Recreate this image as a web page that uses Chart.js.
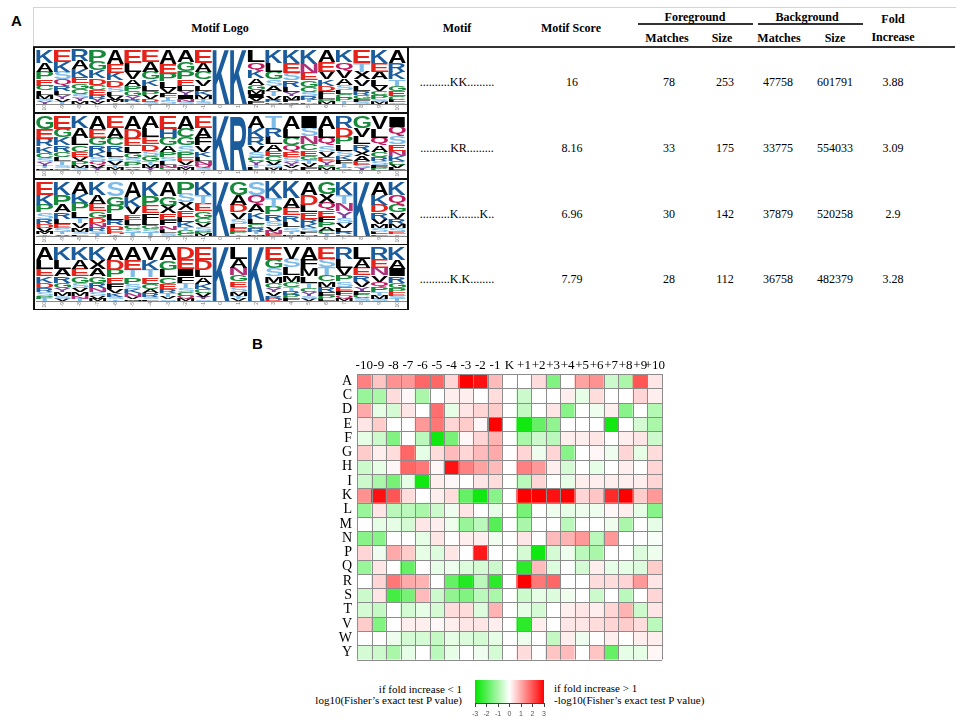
<!DOCTYPE html>
<html>
<head>
<meta charset="utf-8">
<script src="https://cdn.jsdelivr.net/npm/chart.js@4.4.1/dist/chart.umd.min.js"></script>
<style>
body { margin: 0; background: #fff; }
#page { position: relative; width: 957px; height: 727px; overflow: hidden; font-family: "Liberation Serif", "Times New Roman", serif; color: #000; }
.t { position: absolute; transform: translate(-50%, -50%); white-space: nowrap; font-size: 12px; line-height: 1; }
.r { transform: translate(-100%, -50%); }
.l { transform: translate(0, -50%); }
.b { font-weight: bold; }
.panel { position: absolute; font-family: "Liberation Sans", Arial, sans-serif; font-weight: bold; font-size: 15px; line-height: 1; }
.line { position: absolute; }
canvas { position: absolute; }
.logobox { position: absolute; left: 33px; width: 372px; border: 2px solid #111; border-top-width: 1px; border-bottom-width: 1px; }
</style>
</head>
<body>
<div id="page">
  <div class="panel" style="left:11px;top:13px;">A</div>
  <div class="panel" style="left:252px;top:336px;">B</div>

  <div class="line" style="left:33px;top:7px;width:922px;height:39px;border-top:1px solid #d4d4d4;border-left:1px solid #d4d4d4;"></div>
  <div class="line" style="left:33px;top:46px;width:922px;height:2px;background:#333;"></div>
  <div class="line" style="left:638px;top:23px;width:115px;height:2px;background:#333;"></div>
  <div class="line" style="left:758px;top:23px;width:105px;height:2px;background:#333;"></div>

  <div class="t b" style="left:220px;top:28px;">Motif Logo</div>
  <div class="t b" style="left:457px;top:28px;">Motif</div>
  <div class="t b" style="left:571px;top:28px;">Motif Score</div>
  <div class="t b" style="left:695px;top:17px;">Foreground</div>
  <div class="t b" style="left:807px;top:17px;">Background</div>
  <div class="t b" style="left:893px;top:19px;">Fold</div>
  <div class="t b" style="left:667px;top:38px;">Matches</div>
  <div class="t b" style="left:722px;top:38px;">Size</div>
  <div class="t b" style="left:779px;top:38px;">Matches</div>
  <div class="t b" style="left:835px;top:38px;">Size</div>
  <div class="t b" style="left:893px;top:37px;">Increase</div>

  <div id="rows"></div>

  <canvas id="heat" width="340" height="323" style="left:330px;top:350px;width:340px;height:323px;"></canvas>
  <canvas id="scale" width="89" height="41" style="left:465px;top:680px;width:89px;height:41px;"></canvas>

  <div class="t r" style="left:462px;top:689px;font-size:11px;">if fold increase &lt; 1</div>
  <div class="t r" style="left:462px;top:700px;font-size:11px;">log10(Fisher’s exact test P value)</div>
  <div class="t l" style="left:554px;top:688px;font-size:11px;">if fold increase &gt; 1</div>
  <div class="t l" style="left:554px;top:700px;font-size:11px;">-log10(Fisher’s exact test P value)</div>
</div>

<script>
// table values
var motifs = ['..........KK.........', '..........KR.........', '..........K.......K..', '..........K.K........'];
var motifScores = [16, 8.16, 6.96, 7.79];
var fgMatches = [78, 33, 30, 28];
var fgSize = [253, 175, 142, 112];
var bgMatches = [47758, 33775, 37879, 36758];
var bgSize = [601791, 554033, 520258, 482379];
var foldIncrease = [3.88, 3.09, 2.9, 3.28];

// heatmap axes and values
var positions = ['-10', '-9', '-8', '-7', '-6', '-5', '-4', '-3', '-2', '-1', 'K',
                 '+1', '+2', '+3', '+4', '+5', '+6', '+7', '+8', '+9', '+10'];
var residues = ['A', 'C', 'D', 'E', 'F', 'G', 'H', 'I', 'K', 'L', 'M', 'N', 'P', 'Q', 'R', 'S', 'T', 'V', 'W', 'Y'];
var heat = [
  [1.5, 0.7, 1.3, 1.2, 1.8, 1.8, 0.5, 3, 2.8, 0.8, 0, 0, 0.4, -1.5, 0, 1.1, 1.3, -0.6, -1.0, 2.0, 0.3],
  [-1.2, -1.0, 0.4, 0.1, -1.0, 0, 0.2, 0.2, 0, 0.4, 0, -0.6, 0, 0, 0.2, -0.3, 0.4, 0, 0, 0.5, 0.2],
  [1.0, -0.3, -0.5, 0.3, 0, 1.7, -0.3, 0.3, 0.5, 0.6, 0, -0.7, 0, 0.3, -1.4, 0, -0.2, 0.2, -1.4, 0, -0.9],
  [0.3, 0.6, 0, 0, 1.2, 1.6, 0.5, 0.6, 0.1, 3, 0, -2.8, -1.8, -1.3, 0, 0, 0, -2.8, 0, -0.5, -1.0],
  [-0.3, -0.6, -1.5, 0, -0.8, -2.8, -1.6, 0.1, 0.5, 0.9, 0, -1.0, -0.6, -0.8, 0.2, 0.2, 0.3, 0, 0.2, 0.3, -0.6],
  [0.6, 0.2, 0.4, 1.8, -0.3, 0.4, 0.8, 0.5, 0.8, 1.0, 0, 0.5, -0.2, 0.5, -1.4, 0, 0.1, -0.2, 0.5, -0.3, 0.4],
  [-0.6, -0.3, 0.1, 1.8, 1.6, 0.1, 2.8, 1.5, 1.1, 0.8, 0, 1.5, 1.2, 0.2, -0.5, 0, -0.3, 0, 0.2, 0, 0.5],
  [-0.6, -1.0, -1.6, -0.3, -2.8, 0.2, 0.1, 0, 0.3, 0.4, 0, -0.8, 0.5, 0, -0.3, 0.2, 0.2, 0.2, 0.2, 0.2, 0.5],
  [1.3, 2.8, 2.0, 0.4, 0, 0.2, 0.4, -1.8, -2.8, -1.4, 0, 3, 3, 2.8, 3, 0.5, 0.7, 2.5, 3, 0.6, 1.2],
  [-1.2, 0.3, -0.8, -0.8, -1.0, -0.6, -0.2, 0.3, 0, -0.3, 0, -1.6, 0, -0.2, -0.3, -0.2, -0.2, 0.1, 0.2, -0.3, -1.4],
  [0, -0.3, -0.3, -0.5, 0.3, 0.2, -0.2, -1.2, -0.8, -2.0, 0, -1.0, 0, 0, -0.8, 0, 0, -0.2, -1.0, 0, -0.3],
  [-1.4, -1.4, 0, 0, -0.3, 0.3, 0, 0.2, 0.2, -0.2, 0, 0.3, 0, 0.8, 0.9, 1.2, -0.8, 1.2, 0, 0, -0.1],
  [0.5, -0.2, 1.0, 0.6, -0.3, -0.4, 0.3, 0, 2.7, 0, 0, -0.5, -2.8, -0.5, -0.2, -0.8, -1.0, 0, 0, -0.4, -0.2],
  [-1.2, 0.3, 0, -1.8, 0, -0.3, -0.2, -0.4, -0.5, -0.6, 0, -2.5, 0.8, -0.4, 0, -0.5, 0.2, -0.3, -0.3, -0.4, 0.6],
  [0, 0.5, 1.6, 1.0, 0.9, 0, -1.8, -2.6, -0.8, -2.5, 0, 3, 1.6, 1.8, 0, 0, 0.4, 0.4, 0.5, 1.2, 0.3],
  [-0.6, 0.3, -2.2, -1.6, 0.8, -0.6, -1.3, -1.5, -0.8, -1.0, 0, -0.6, -0.3, -0.4, -0.2, 0, -0.6, 0, -0.8, 0, 0.5],
  [-0.5, -0.7, 0, -0.5, -0.3, -0.5, 0.4, 0.4, -0.4, 0.9, 0, -0.3, -0.5, 0, 0.2, 0.3, 0.2, 0.5, 0.9, -0.6, 0.3],
  [0.6, -1.5, 0, 0.2, 0.2, 0.1, 0.2, 0.3, 0.3, 0.2, 0, -2.5, 0.2, 0, 0.3, 0.3, 0.4, 0.5, 0.6, 0.4, -0.8],
  [0, 0, -0.2, -0.5, -0.5, -0.7, -0.3, -0.4, -0.5, -0.3, 0, -0.2, 0, -0.7, 0.2, -0.2, 0, 0.2, 0, 0.2, 0.2],
  [-0.5, -0.6, -1.0, -0.3, 0, -0.8, -0.3, 0, -0.2, -0.5, 0, 0.4, 0, 0.7, 0.8, 0, 0.7, -1.8, -0.3, -0.3, 0.1]
];
var scaleTicks = [-3, 3];

// motif logos: each column lists letters top to bottom with their heights
var logo1 = ['K24 A16 P14 E12 C9 L8 M7 S5 Y5', 'E22 K18 S14 Q12 R10 L8 Y7 V5 T4', 'R20 A16 K14 E12 G10 C9 S8 Y6 M5',
  'P22 G16 K14 D12 C10 E9 R7 Y6 V4', 'A26 E16 K14 D12 S9 L8 V7 M5 T3', 'E24 L16 V14 A12 P10 G9 Y7 R5 S3',
  'E22 A18 G14 K12 L10 P8 V7 D5 S4', 'A26 E18 P14 L12 V9 F8 T7 S6', 'A22 G18 P14 E12 L10 Y8 I7 N5 S4',
  'E24 A16 C14 V12 L10 K8 M7 T5 S4', 'K100', 'K100', 'L22 Q16 K14 A12 G10 M8 I7 V6 F5',
  'K24 L16 G14 S12 A10 T9 V7 R5 N3', 'K24 E18 S14 R12 L10 Y8 M6 F5 Q3', 'K26 N16 E14 G12 C10 S8 R6 T5 P3',
  'A22 E18 V14 K12 D10 F8 L7 P5 M4', 'K22 Q16 V14 A12 S10 L8 C7 P6 T5', 'E24 T16 X14 V12 L10 R8 G7 F5 S4',
  'K24 E16 A14 L12 V10 C8 P7 S5 M4', 'A24 R16 K14 T12 G10 E9 C7 L5 S3'];
var logo2 = ['G24 E18 R14 K12 C10 S8 Y6 T5 M3', 'E24 G16 K14 R12 C10 L8 T7 S5 Q4', 'K22 A18 L14 C12 E10 V8 P7 M5 S4',
  'A24 E16 G14 R12 K10 S8 Q7 V5 Y4', 'E22 A18 C14 R12 L10 S8 V7 T5 M4', 'A24 D18 E14 L12 G10 S8 P7 Q4 V3',
  'A22 L16 E14 D12 S10 G9 T7 M6 Y4', 'E24 H16 G14 A12 P10 S8 L7 N5 C4', 'A24 C16 G14 S12 P10 E8 V7 Y5 M4',
  'E22 A18 F14 V12 K10 L8 N7 Q5 S4', 'K100', 'R100', 'A22 K18 R14 V12 S10 C8 Y7 T5 L4',
  'T22 R16 L14 A12 E10 C9 V7 S6 M4', 'A24 L16 C14 Q12 E10 S9 Y7 V5 R3', 'I22 S16 N14 C12 E10 G8 T7 V6 F5',
  'A24 L16 Q14 S12 V10 E8 Y7 P5 M4', 'R22 D16 P14 L12 S10 K8 F7 T6 C5', 'G22 V16 L14 R12 X10 A9 E7 S6 Y4',
  'V24 L16 Q14 A12 C10 R8 S7 F5 P4', 'I20 Q18 S14 E12 N10 K9 C7 V6 L4'];
var logo3 = ['E24 K18 P14 S12 R10 D8 V6 M5 Y3', 'K24 P18 A14 R12 L10 E8 S6 T5 V3', 'A22 K16 P16 L12 T10 V9 M7 S5 F3',
  'K24 A16 E14 G12 D10 N8 R7 S5 T4', 'S26 G18 P14 L12 R10 D8 E6 H3 Y3', 'A28 K18 V14 E10 L9 C8 S7 T6',
  'K26 P18 E14 F12 L10 G8 S6 T6', 'A26 G18 X14 E12 F10 N8 L7 S5', 'P22 S16 X14 E12 L10 K9 T7 G6 C4',
  'K24 T16 E14 G12 C10 V8 S7 P5 M4', 'K100', 'G24 A18 D14 V12 S10 L8 E7 P4 T3', 'S24 Q18 A14 K12 L10 C8 R7 T4 M3',
  'K30 T16 P14 R12 S10 V8 N6 E4', 'K30 A18 E14 R12 L10 S8 T5 M3', 'A24 D18 L14 E12 R10 K8 S7 F4 N3',
  'G22 X16 Q14 E12 F10 P9 A7 C6 T4', 'K24 T16 N14 Y12 S10 V9 L7 R5 D3', 'K100',
  'A24 K18 D14 R12 V10 M8 S7 L4 E3', 'K24 Q18 G14 V12 R10 M8 S7 E4 T3'];
var logo4 = ['A24 L16 E14 K12 D10 R8 S7 P5 T4', 'K24 L16 A14 R12 G10 Y8 M7 S5 V4', 'K24 A16 E14 G12 S10 V8 M7 N5 T4',
  'K24 X16 A14 G12 R10 N8 S7 V5 M4', 'A24 D18 P14 E12 F10 V8 K7 S4 T3', 'A24 E18 T14 P12 S10 K8 N7 V4 M3',
  'V24 K18 T14 E12 C10 A8 R7 S4 L3', 'A24 G18 L14 C12 E10 R8 T7 V4 S3', 'D22 E18 I14 F12 T10 S8 C7 Q5 M4',
  'E24 D18 L14 A12 K10 C8 V7 Y4 S3', 'K100', 'L22 A16 N14 G12 E10 S9 M8 T5 V4', 'K100',
  'E24 G16 S14 M12 C10 Y8 V7 R5 D4', 'V22 S16 L14 M12 C10 T8 R7 P6 F5', 'A24 F16 M14 L12 T10 C8 Y7 S5 V4',
  'E22 S16 T14 C12 M10 R9 F7 P6 L4', 'R22 L16 V14 P12 S10 E8 F7 Q6 M5', 'L22 A16 E14 R12 V10 Y8 F7 C6 S5',
  'R22 E16 N14 V12 Q10 P9 T7 M6 S4', 'K24 A16 I14 R12 G10 P8 E7 S5 T4'];
var logoTicks = ['-10', '-9', '-8', '-7', '-6', '-5', '-4', '-3', '-2', '-1', '0',
                 '1', '2', '3', '4', '5', '6', '7', '8', '9', '10'];

var letterColors = {
  K: '#1b5c9c', R: '#1b5c9c', H: '#1b5c9c',
  D: '#e5231b', E: '#e5231b',
  G: '#17893a', P: '#17893a', C: '#17893a',
  S: '#7dbbe8', T: '#7dbbe8',
  Q: '#c2185b', N: '#b0307a', Y: '#7b3f9e'
};

var rowTops = [47, 113, 179, 244];
var rowHeight = 65;
var serif = '"Liberation Serif", "Times New Roman", serif';

// table body
var rowsDiv = document.getElementById('rows');
var html = '';
rowTops.forEach(function (top, i) {
  var cy = top + 35;
  html += '<div class="logobox" style="top:' + top + 'px;height:' + (rowHeight - 1) + 'px;"></div>';
  html += '<canvas id="logo' + i + '" width="372" height="63" style="left:35px;top:' + (top + 1) + 'px;width:372px;height:63px;"></canvas>';
  var cells = [[457, motifs[i]], [572, motifScores[i]], [669, fgMatches[i]], [725, fgSize[i]],
               [778, bgMatches[i]], [835, bgSize[i]], [893, foldIncrease[i]]];
  cells.forEach(function (c) {
    html += '<div class="t" style="left:' + c[0] + 'px;top:' + cy + 'px;">' + c[1] + '</div>';
  });
});
rowsDiv.innerHTML = html;

function drawGlyph(ctx, ch, x, y, w, h) {
  ctx.save();
  ctx.font = 'bold 100px "Liberation Sans", Arial, sans-serif';
  var m = ctx.measureText(ch);
  var gw = m.actualBoundingBoxLeft + m.actualBoundingBoxRight;
  var gh = m.actualBoundingBoxAscent + m.actualBoundingBoxDescent;
  ctx.translate(x, y);
  ctx.scale(w / gw, h / gh);
  ctx.fillStyle = letterColors[ch] || '#000';
  ctx.textBaseline = 'alphabetic';
  ctx.fillText(ch, m.actualBoundingBoxLeft, m.actualBoundingBoxAscent);
  ctx.restore();
}

var letterPlugin = {
  id: 'letters',
  afterDatasetsDraw: function (chart) {
    var ctx = chart.ctx;
    chart.data.datasets.forEach(function (ds, di) {
      chart.getDatasetMeta(di).data.forEach(function (bar, i) {
        var ch = ds.letters[i];
        if (!ch) return;
        var p = bar.getProps(['x', 'y', 'base', 'width'], true);
        var h = p.base - p.y;
        if (h < 0.3) return;
        drawGlyph(ctx, ch, p.x - p.width / 2, p.y, p.width, h);
      });
    });
  }
};

function makeLogo(id, cols) {
  var parsed = cols.map(function (s) {
    return s.split(' ').map(function (t) { return { l: t[0], h: parseFloat(t.slice(1)) }; });
  });
  var depth = Math.max.apply(null, parsed.map(function (c) { return c.length; }));
  var datasets = [];
  for (var k = 0; k < depth; k++) {
    // k-th letter counted from the bottom of each column
    datasets.push({
      letters: parsed.map(function (c) { return c.length > k ? c[c.length - 1 - k].l : ''; }),
      data: parsed.map(function (c) { return c.length > k ? c[c.length - 1 - k].h : 0; }),
      backgroundColor: 'rgba(0,0,0,0)',
      borderWidth: 0,
      barPercentage: 1,
      categoryPercentage: 0.97
    });
  }
  new Chart(document.getElementById(id), {
    type: 'bar',
    data: { labels: logoTicks, datasets: datasets },
    options: {
      responsive: false,
      animation: false,
      layout: { padding: { left: 1, right: 1, top: 2, bottom: 0 } },
      plugins: { legend: { display: false }, tooltip: { enabled: false } },
      scales: {
        x: {
          stacked: true,
          grid: { display: false, drawTicks: false },
          border: { display: true, color: '#888' },
          ticks: { font: { size: 5 }, color: '#777', minRotation: 90, maxRotation: 90, padding: 1, autoSkip: false },
          afterFit: function (s) { s.height = 7; }
        },
        y: { stacked: true, display: false, min: 0, max: 100 }
      }
    },
    plugins: [letterPlugin]
  });
}

[logo1, logo2, logo3, logo4].forEach(function (cols, i) { makeLogo('logo' + i, cols); });

function heatColor(v) {
  var t = Math.min(Math.abs(v) / 3, 1);
  var o = Math.round(255 * (1 - t));
  if (v >= 0) return 'rgb(255,' + o + ',' + o + ')';
  return 'rgb(' + o + ',' + Math.round(255 - 25 * t) + ',' + o + ')';
}

var cellGrid = {
  id: 'cellGrid',
  afterDatasetsDraw: function (chart) {
    var xs = chart.scales.x, ys = chart.scales.y, a = chart.chartArea, ctx = chart.ctx;
    ctx.save();
    ctx.strokeStyle = '#8c8c8c';
    ctx.lineWidth = 1;
    ctx.beginPath();
    for (var r = 0; r <= residues.length; r++) {
      var y = Math.round(ys.getPixelForValue(r)) + 0.5;
      ctx.moveTo(a.left, y); ctx.lineTo(a.right, y);
    }
    for (var c = 0; c <= positions.length; c++) {
      var x = Math.round(xs.getPixelForValue(c - 0.5)) + 0.5;
      ctx.moveTo(x, a.top); ctx.lineTo(x, a.bottom);
    }
    ctx.stroke();
    ctx.restore();
  }
};

new Chart(document.getElementById('heat'), {
  type: 'bar',
  data: {
    labels: positions,
    datasets: residues.map(function (r, i) {
      return {
        label: r,
        data: positions.map(function () { return [i, i + 1]; }),
        backgroundColor: heat[i].map(heatColor),
        borderWidth: 0,
        grouped: false,
        barPercentage: 1,
        categoryPercentage: 1
      };
    })
  },
  options: {
    responsive: false,
    animation: false,
    layout: { padding: { left: 0, right: 8, top: 0, bottom: 2 } },
    plugins: { legend: { display: false }, tooltip: { enabled: false } },
    scales: {
      x: {
        position: 'top',
        grid: { display: false, drawTicks: false },
        border: { display: false },
        ticks: { font: { family: serif, size: 13 }, color: '#000', padding: 1, maxRotation: 0, autoSkip: false },
        afterFit: function (s) { s.height = 24; }
      },
      y: {
        min: 0, max: 20, reverse: true,
        grid: { display: false, drawTicks: false },
        border: { display: false },
        afterBuildTicks: function (s) { s.ticks = residues.map(function (r, i) { return { value: i + 0.5 }; }); },
        ticks: {
          callback: function (v) { return residues[Math.floor(v)]; },
          font: { family: serif, size: 14 }, color: '#000', padding: 5, autoSkip: false
        },
        afterFit: function (s) { s.width = 27; }
      }
    }
  },
  plugins: [cellGrid]
});

// colour key
new Chart(document.getElementById('scale'), {
  type: 'bar',
  data: {
    labels: [''],
    datasets: [{
      data: [scaleTicks],
      backgroundColor: function (c) {
        var a = c.chart.chartArea;
        if (!a) return '#fff';
        var g = c.chart.ctx.createLinearGradient(a.left, 0, a.right, 0);
        g.addColorStop(0, heatColor(-3));
        g.addColorStop(0.5, '#ffffff');
        g.addColorStop(1, heatColor(3));
        return g;
      },
      borderWidth: 0,
      barPercentage: 1,
      categoryPercentage: 1
    }]
  },
  options: {
    indexAxis: 'y',
    responsive: false,
    animation: false,
    layout: { padding: { left: 10, right: 10, top: 0, bottom: 0 } },
    plugins: { legend: { display: false }, tooltip: { enabled: false } },
    scales: {
      x: {
        type: 'linear', min: -3, max: 3,
        ticks: { stepSize: 1, font: { family: '"Liberation Sans", Arial, sans-serif', size: 7 }, color: '#555', padding: 3,
                 minRotation: 0, maxRotation: 0, autoSkip: false },
        grid: { drawOnChartArea: false, drawTicks: true, tickLength: 4, color: '#444' },
        border: { display: true, color: '#444' },
        afterFit: function (s) { s.height = 18; }
      },
      y: { display: false }
    }
  }
});
</script>
</body>
</html>
